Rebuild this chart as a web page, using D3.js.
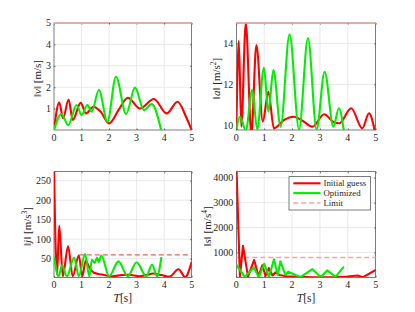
<!DOCTYPE html>
<html>
<head>
<meta charset="utf-8">
<script src="https://cdn.jsdelivr.net/npm/d3@7"></script>
<style>
  body { margin: 0; background: #fff; }
  svg { display: block; }
  text { font-family: "Liberation Serif", "DejaVu Serif", serif; fill: #262626; }
</style>
</head>
<body>
<svg id="chart" width="415" height="312"></svg>
<script>
// values, [t, value]
const xTicks = [0, 1, 2, 3, 4, 5]

const velInitial = [[0,0],[0.19,1.28],[0.33,0.55],[0.53,1.43],[0.68,0.47],[0.97,1.27],[1.16,0.78],[1.43,1.09],[1.7,0.85],[2.0,0.31],[2.35,0.95],[2.68,1.51],[3.12,1.01],[3.63,1.45],[4.09,0.78],[4.49,1.32],[4.8,0.6],[5,0]]
const velOptimized = [[0,0],[0.27,0.75],[0.52,0.23],[0.82,1.17],[1.0,0.7],[1.21,1.17],[1.37,0.86],[1.63,1.87],[1.94,0.39],[2.25,2.49],[2.62,0.75],[2.94,1.98],[3.27,0.93],[3.55,1.21],[3.89,0]]
const velTicks = [1, 2, 3, 4, 5]
const velLimit = 5

const accInitial = [[0,9.6],[0.09,14.13],[0.18,9.93],[0.34,15.0],[0.54,9.6],[0.72,13.92],[0.95,10.18],[1.15,11.64],[1.35,9.85],[1.71,10.26],[2.07,10.42],[2.4,10.2],[2.73,9.93],[3.15,10.54],[3.5,10.15],[3.7,10.1],[4.12,10.83],[4.52,9.85],[4.76,10.59],[4.97,9.7]]
const accOptimized = [[0,9.8],[0.13,10.42],[0.34,9.75],[0.57,11.72],[0.75,9.8],[0.99,12.81],[1.15,10.66],[1.33,12.7],[1.59,9.93],[1.91,14.45],[2.25,9.8],[2.57,14.27],[2.88,9.8],[3.17,12.62],[3.48,9.93],[3.68,10.83],[3.86,9.7]]
const accTicks = [10, 12, 14]
const accLimit = 15

const jerkInitial = [[0,278],[0.11,9],[0.19,135],[0.32,5],[0.51,82],[0.68,5],[0.9,58],[1.03,5],[1.15,45],[1.28,28],[1.45,14],[1.67,10],[1.9,7],[2.12,5],[2.45,8],[2.73,9],[3.09,5],[3.35,8],[3.6,12],[3.9,8],[4.2,4],[4.52,23],[4.76,3],[5,42]]
const jerkOptimized = [[0,55],[0.17,5],[0.29,33],[0.47,5],[0.73,53],[0.9,5],[1.13,62],[1.28,5],[1.38,47],[1.48,39],[1.56,53],[1.62,41],[1.72,58],[2.0,5],[2.34,43],[2.68,5],[3.0,41],[3.35,5],[3.56,35],[3.74,5],[3.9,54]]
const jerkTicks = [50, 100, 150, 200, 250]
const jerkLimit = 60
const jerkLimitStart = 0.9

const snapInitial = [[0,4600],[0.13,40],[0.24,1265],[0.42,30],[0.64,700],[0.8,40],[0.93,490],[1.05,60],[1.17,370],[1.3,80],[1.4,200],[1.55,100],[1.8,50],[2.2,30],[2.8,10],[3.5,20],[4.0,40],[4.35,80],[4.55,10],[5,300]]
const snapOptimized = [[0,510],[0.3,20],[0.63,400],[0.81,10],[1.0,550],[1.17,10],[1.35,730],[1.49,90],[1.58,650],[1.76,100],[1.86,230],[2.3,10],[2.73,330],[3.03,20],[3.26,280],[3.56,20],[3.86,430]]
const snapTicks = [1000, 2000, 3000, 4000]
const snapLimit = 800

const legendNames = ["Initial guess", "Optimized", "Limit"]

const red = "#ff0000", green = "#00ee00", limitColor = "#ff9f9f"

const svg = d3.select("#chart")

const panels = [
  {id: "v", box: [54, 191.7, 23, 130], dom: [0.003, 5], ticks: velTicks, init: velInitial, opt: velOptimized,
   limit: velLimit, limStart: 0, curve: d3.curveMonotoneX, sym: "v", unit: "m/s", pow: null, labX: 41, xlabel: false},
  {id: "a", box: [236.3, 375.7, 23, 130], dom: [9.77, 15], ticks: accTicks, init: accInitial, opt: accOptimized,
   limit: accLimit, limStart: 0, curve: d3.curveMonotoneX, sym: "a", unit: "m/s", pow: "2", labX: 220, xlabel: false},
  {id: "j", box: [54, 191.7, 171.7, 277.3], dom: [2.3, 273], ticks: jerkTicks, init: jerkInitial, opt: jerkOptimized,
   limit: jerkLimit, limStart: jerkLimitStart, curve: d3.curveMonotoneX, sym: "j", unit: "m/s", pow: "3", labX: 31, xlabel: true, limColor: "#ff5a5a"},
  {id: "s", box: [236.3, 375.7, 171.7, 277.3], dom: [5, 4241], ticks: snapTicks, init: snapInitial, opt: snapOptimized,
   limit: snapLimit, limStart: 0, curve: d3.curveLinear, sym: "s", unit: "m/s", pow: "4", labX: 211, xlabel: true}
]

panels.forEach(p => {
  const [x0, x1, y0, y1] = p.box
  const x = d3.scaleLinear().domain([0, 5]).range([x0, x1])
  const y = d3.scaleLinear().domain(p.dom).range([y1, y0])
  const g = svg.append("g")

  g.append("clipPath").attr("id", "clip-" + p.id)
    .append("rect").attr("x", x0).attr("y", y0).attr("width", x1 - x0).attr("height", y1 - y0)

  // grid
  g.append("g").selectAll("line.xg").data(xTicks.slice(1, -1)).join("line")
    .attr("x1", d => x(d)).attr("x2", d => x(d)).attr("y1", y0).attr("y2", y1)
    .attr("stroke", "#e3e3e3").attr("stroke-width", 0.8)
  g.append("g").selectAll("line.yg").data(p.ticks.filter(d => y(d) > y0 + 1)).join("line")
    .attr("x1", x0).attr("x2", x1).attr("y1", d => y(d)).attr("y2", d => y(d))
    .attr("stroke", "#e3e3e3").attr("stroke-width", 0.8)

  // box and inward ticks
  const ax = g.append("g").attr("fill", "none").attr("stroke", "#262626").attr("stroke-width", 0.6)
  ax.append("rect").attr("x", x0).attr("y", y0).attr("width", x1 - x0).attr("height", y1 - y0)
  ax.append("g").call(d3.axisBottom(x).tickValues(xTicks).tickSize(-1.6).tickFormat(""))
    .attr("transform", `translate(0,${y1})`).call(s => s.select(".domain").remove())
  ax.append("g").call(d3.axisTop(x).tickValues(xTicks).tickSize(-1.6).tickFormat(""))
    .attr("transform", `translate(0,${y0})`).call(s => s.select(".domain").remove())
  ax.append("g").call(d3.axisLeft(y).tickValues(p.ticks).tickSize(-1.6).tickFormat(""))
    .attr("transform", `translate(${x0},0)`).call(s => s.select(".domain").remove())
  ax.append("g").call(d3.axisRight(y).tickValues(p.ticks).tickSize(-1.6).tickFormat(""))
    .attr("transform", `translate(${x1},0)`).call(s => s.select(".domain").remove())
  ax.selectAll("line").attr("stroke", "#262626").attr("stroke-width", 0.6)

  // tick labels
  g.append("g").selectAll("text").data(xTicks).join("text")
    .attr("x", d => x(d)).attr("y", y1 + 11).attr("text-anchor", "middle")
    .attr("font-size", 10).text(d => d)
  g.append("g").selectAll("text").data(p.ticks).join("text")
    .attr("x", x0 - 3).attr("y", d => y(d) + 3.4).attr("text-anchor", "end")
    .attr("font-size", 10).text(d => d)

  // y label
  const yl = g.append("text").attr("font-size", 11).attr("text-anchor", "middle")
    .attr("transform", `translate(${p.labX},${(y0 + y1) / 2 + 2}) rotate(-90)`)
  yl.append("tspan").text("\u2016")
  yl.append("tspan").attr("font-style", "italic").text(p.sym)
  yl.append("tspan").text("\u2016 [" + p.unit)
  if (p.pow) {
    yl.append("tspan").attr("font-size", 7.5).attr("dy", -4).text(p.pow)
    yl.append("tspan").attr("dy", 4).text("]")
  } else {
    yl.append("tspan").text("]")
  }

  if (p.xlabel) {
    const xl = g.append("text").attr("font-size", 11.5).attr("text-anchor", "middle")
      .attr("x", (x0 + x1) / 2).attr("y", y1 + 24.5)
    xl.append("tspan").attr("font-style", "italic").text("T")
    xl.append("tspan").text("[s]")
  }

  // series
  const line = d3.line().curve(p.curve).x(d => x(d[0])).y(d => y(d[1]))
  const plot = g.append("g").attr("clip-path", `url(#clip-${p.id})`)
  plot.append("path").datum([[p.limStart, p.limit], [5, p.limit]])
    .attr("d", line.curve(d3.curveLinear)).attr("fill", "none")
    .attr("stroke", p.limColor || limitColor).attr("stroke-width", 1.3)
    .attr("stroke-dasharray", "5,3")
  line.curve(p.curve)
  plot.append("path").datum(p.init).attr("d", line)
    .attr("fill", "none").attr("stroke", red).attr("stroke-width", 2.1)
    .attr("stroke-linejoin", "round")
  plot.append("path").datum(p.opt).attr("d", line)
    .attr("fill", "none").attr("stroke", green).attr("stroke-width", 2.1)
    .attr("stroke-linejoin", "round")

  // limit on the top edge is drawn over the box
  if (p.limit === p.dom[1]) {
    g.append("line").attr("x1", x0).attr("x2", x1).attr("y1", y0).attr("y2", y0)
      .attr("stroke", limitColor).attr("stroke-width", 1.5).attr("stroke-dasharray", "5,3")
  }
})

// legend in the snap panel
const lg = svg.append("g").attr("transform", "translate(289,176.7)")
lg.append("rect").attr("width", 81.7).attr("height", 33.3)
  .attr("fill", "#fff").attr("stroke", "#262626").attr("stroke-width", 0.6)
const legendStyle = [
  {color: red, dash: null},
  {color: green, dash: null},
  {color: limitColor, dash: "5,3"}
]
lg.selectAll("g.item").data(legendNames).join("g")
  .attr("transform", (d, i) => `translate(0,${6.6 + i * 9.8})`)
  .each(function (d, i) {
    const it = d3.select(this)
    it.append("line").attr("x1", 4.3).attr("x2", 31.5)
      .attr("stroke", legendStyle[i].color).attr("stroke-width", i === 2 ? 1.5 : 2.1)
      .attr("stroke-dasharray", legendStyle[i].dash)
    it.append("text").attr("x", 34.5).attr("y", 3.1).attr("font-size", 8.8).text(d)
  })
</script>
</body>
</html>
